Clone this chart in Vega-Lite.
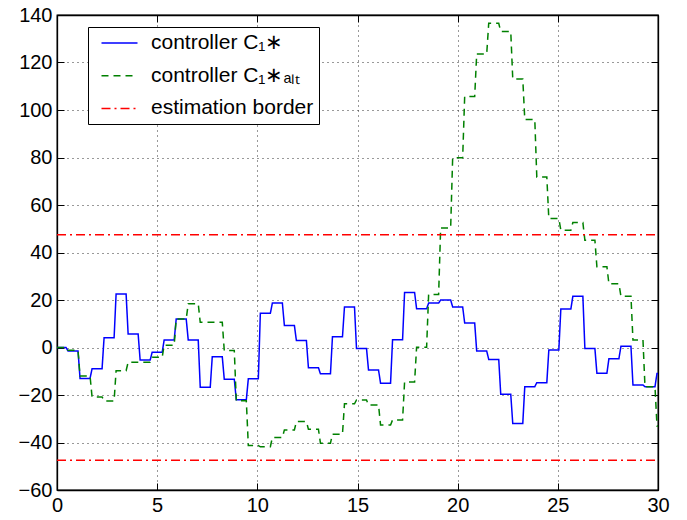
{
  "$schema": "https://vega.github.io/schema/vega-lite/v6.json",
  "width": 601,
  "height": 475,
  "autosize": {"type": "none"},
  "padding": {"left": 57, "top": 15, "right": 29, "bottom": 30},
  "background": "white",
  "datasets": {
    "blue": [
      {"t":0,"v":0},{"t":0.45,"v":0},
      {"t":0.55,"v":-1.5},{"t":1.05,"v":-1.5},
      {"t":1.15,"v":-13},{"t":1.65,"v":-13},
      {"t":1.75,"v":-8.9},{"t":2.25,"v":-8.9},
      {"t":2.35,"v":4.1},{"t":2.85,"v":4.1},
      {"t":2.95,"v":22.5},{"t":3.45,"v":22.5},
      {"t":3.55,"v":5.7},{"t":4.05,"v":5.7},
      {"t":4.15,"v":-5.3},{"t":4.65,"v":-5.3},
      {"t":4.75,"v":-2},{"t":5.25,"v":-2},
      {"t":5.35,"v":3.2},{"t":5.85,"v":3.2},
      {"t":5.95,"v":12},{"t":6.45,"v":12},
      {"t":6.55,"v":3.2},{"t":7.05,"v":3.2},
      {"t":7.15,"v":-16.7},{"t":7.65,"v":-16.7},
      {"t":7.75,"v":-3.9},{"t":8.25,"v":-3.9},
      {"t":8.35,"v":-13.4},{"t":8.85,"v":-13.4},
      {"t":8.95,"v":-22},{"t":9.45,"v":-22},
      {"t":9.55,"v":-13.2},{"t":10.05,"v":-13.2},
      {"t":10.15,"v":14.4},{"t":10.65,"v":14.4},
      {"t":10.75,"v":18.7},{"t":11.25,"v":18.7},
      {"t":11.35,"v":9.3},{"t":11.85,"v":9.3},
      {"t":11.95,"v":2.9},{"t":12.45,"v":2.9},
      {"t":12.55,"v":-8.5},{"t":13.05,"v":-8.5},
      {"t":13.15,"v":-11.1},{"t":13.65,"v":-11.1},
      {"t":13.75,"v":4.5},{"t":14.25,"v":4.5},
      {"t":14.35,"v":17.1},{"t":14.85,"v":17.1},
      {"t":14.95,"v":-0.4},{"t":15.45,"v":-0.4},
      {"t":15.55,"v":-9.5},{"t":16.05,"v":-9.5},
      {"t":16.15,"v":-15},{"t":16.65,"v":-15},
      {"t":16.75,"v":3.3},{"t":17.25,"v":3.3},
      {"t":17.35,"v":23.2},{"t":17.85,"v":23.2},
      {"t":17.95,"v":16.3},{"t":18.45,"v":16.3},
      {"t":18.55,"v":18.7},{"t":19.05,"v":18.7},
      {"t":19.15,"v":20},{"t":19.65,"v":20},
      {"t":19.75,"v":17.1},{"t":20.25,"v":17.1},
      {"t":20.35,"v":10.3},{"t":20.85,"v":10.3},
      {"t":20.95,"v":-1.5},{"t":21.45,"v":-1.5},
      {"t":21.55,"v":-5},{"t":22.05,"v":-5},
      {"t":22.15,"v":-19.7},{"t":22.65,"v":-19.7},
      {"t":22.75,"v":-32},{"t":23.25,"v":-32},
      {"t":23.35,"v":-16.5},{"t":23.85,"v":-16.5},
      {"t":23.95,"v":-14.8},{"t":24.45,"v":-14.8},
      {"t":24.55,"v":-1.1},{"t":25.05,"v":-1.1},
      {"t":25.15,"v":16.2},{"t":25.65,"v":16.2},
      {"t":25.75,"v":21.6},{"t":26.25,"v":21.6},
      {"t":26.35,"v":-0.4},{"t":26.85,"v":-0.4},
      {"t":26.95,"v":-10.8},{"t":27.45,"v":-10.8},
      {"t":27.55,"v":-4.7},{"t":28.05,"v":-4.7},
      {"t":28.15,"v":0.5},{"t":28.65,"v":0.5},
      {"t":28.75,"v":-15.8},{"t":29.25,"v":-15.8},
      {"t":29.35,"v":-16.5},{"t":29.85,"v":-16.5},
      {"t":29.95,"v":-10.9},{"t":30,"v":-10.9}
    ],
    "green": [
      {"t":0,"v":0},{"t":0.45,"v":0},
      {"t":0.55,"v":-1.2},{"t":1.05,"v":-1.2},
      {"t":1.15,"v":-12},{"t":1.65,"v":-12},
      {"t":1.75,"v":-20.8},{"t":2.25,"v":-20.8},
      {"t":2.35,"v":-22.5},{"t":2.85,"v":-22.5},
      {"t":2.95,"v":-9.8},{"t":3.45,"v":-9.8},
      {"t":3.55,"v":-6.2},{"t":4.05,"v":-6.2},
      {"t":4.15,"v":-6.2},{"t":4.65,"v":-6.2},
      {"t":4.75,"v":-4.1},{"t":5.25,"v":-4.1},
      {"t":5.35,"v":1},{"t":5.85,"v":1},
      {"t":5.95,"v":12},{"t":6.45,"v":12},
      {"t":6.55,"v":18.4},{"t":7.05,"v":18.4},
      {"t":7.15,"v":10.6},{"t":7.65,"v":10.6},
      {"t":7.75,"v":10.6},{"t":8.25,"v":10.6},
      {"t":8.35,"v":-1.3},{"t":8.85,"v":-1.3},
      {"t":8.95,"v":-22.4},{"t":9.45,"v":-22.4},
      {"t":9.55,"v":-41.3},{"t":10.05,"v":-41.3},
      {"t":10.15,"v":-41.8},{"t":10.65,"v":-41.8},
      {"t":10.75,"v":-37.9},{"t":11.25,"v":-37.9},
      {"t":11.35,"v":-34.7},{"t":11.85,"v":-34.7},
      {"t":11.95,"v":-31.2},{"t":12.45,"v":-31.2},
      {"t":12.55,"v":-34.4},{"t":13.05,"v":-34.4},
      {"t":13.15,"v":-40.3},{"t":13.65,"v":-40.3},
      {"t":13.75,"v":-36.5},{"t":14.25,"v":-36.5},
      {"t":14.35,"v":-23.7},{"t":14.85,"v":-23.7},
      {"t":14.95,"v":-22.1},{"t":15.45,"v":-22.1},
      {"t":15.55,"v":-24.2},{"t":16.05,"v":-24.2},
      {"t":16.15,"v":-32.6},{"t":16.65,"v":-32.6},
      {"t":16.75,"v":-30.5},{"t":17.25,"v":-30.5},
      {"t":17.35,"v":-14.5},{"t":17.85,"v":-14.5},
      {"t":17.95,"v":0.1},{"t":18.45,"v":0.1},
      {"t":18.55,"v":22.3},{"t":19.05,"v":22.3},
      {"t":19.15,"v":50.3},{"t":19.65,"v":50.3},
      {"t":19.75,"v":79.9},{"t":20.25,"v":79.9},
      {"t":20.35,"v":105.7},{"t":20.85,"v":105.7},
      {"t":20.95,"v":123.6},{"t":21.45,"v":123.6},
      {"t":21.55,"v":136.5},{"t":22.05,"v":136.5},
      {"t":22.15,"v":133.1},{"t":22.65,"v":133.1},
      {"t":22.75,"v":113.1},{"t":23.25,"v":113.1},
      {"t":23.35,"v":96},{"t":23.85,"v":96},
      {"t":23.95,"v":71.8},{"t":24.45,"v":71.8},
      {"t":24.55,"v":54.3},{"t":25.05,"v":54.3},
      {"t":25.15,"v":49.4},{"t":25.65,"v":49.4},
      {"t":25.75,"v":52.6},{"t":26.25,"v":52.6},
      {"t":26.35,"v":45.2},{"t":26.85,"v":45.2},
      {"t":26.95,"v":34},{"t":27.45,"v":34},
      {"t":27.55,"v":26.8},{"t":28.05,"v":26.8},
      {"t":28.15,"v":21.6},{"t":28.65,"v":21.6},
      {"t":28.75,"v":3.2},{"t":29.25,"v":3.2},
      {"t":29.35,"v":-16.5},{"t":29.85,"v":-16.5},
      {"t":29.95,"v":-33},{"t":30,"v":-33}
    ],
    "border": [
      {"t":0,"v":47.5,"p":"upper"},{"t":30,"v":47.5,"p":"upper"},
      {"t":0,"v":-47.5,"p":"lower"},{"t":30,"v":-47.5,"p":"lower"}
    ]
  },
  "config": {
    "font": "Liberation Sans",
    "view": {"stroke": "black", "strokeWidth": 1.3},
    "axis": {
      "labelFont": "Liberation Sans",
      "labelFontSize": 20,
      "labelColor": "black",
      "domainColor": "black",
      "domainWidth": 1.3,
      "tickColor": "black",
      "tickSize": -7,
      "tickWidth": 1,
      "labelPadding": 12,
      "gridColor": "#333",
      "gridDash": [1, 4],
      "gridWidth": 1,
      "labelFlush": false,
      "labelOverlap": false,
      "title": null
    },
    "legend": {
      "orient": "none",
      "legendX": 31,
      "legendY": 12,
      "padding": 5.5,
      "strokeColor": "black",
      "fillColor": "white",
      "cornerRadius": 0,
      "labelFont": "Liberation Sans",
      "labelFontSize": 21,
      "labelColor": "black",
      "labelLimit": 400,
      "labelOffset": 21,
      "symbolType": "M-2,0H2",
      "symbolSize": 324,
      "symbolStrokeWidth": 1.5,
      "symbolOffset": 15.5,
      "rowPadding": 10.7,
      "title": null
    }
  },
  "resolve": {"axis": {"x": "independent", "y": "independent"}},
  "layer": [
    {
      "data": {"name": "blue"},
      "mark": {"type": "line", "strokeWidth": 1.5},
      "encoding": {
        "x": {"field": "t", "type": "quantitative", "scale": {"domain": [0, 30], "nice": false, "zero": false},
              "axis": {"orient": "bottom", "values": [0, 5, 10, 15, 20, 25, 30], "grid": true}},
        "y": {"field": "v", "type": "quantitative", "scale": {"domain": [-60, 140], "nice": false, "zero": false},
              "axis": {"orient": "left", "values": [-60, -40, -20, 0, 20, 40, 60, 80, 100, 120, 140], "grid": true}},
        "color": {"datum": "controller C₁∗", "type": "nominal",
                  "scale": {"domain": ["controller C₁∗", "controller C₁∗ₐₗₜ", "estimation border"], "range": ["#0000ff", "#008000", "#ff0000"]},
                  "legend": {"title": null, "symbolType": "M-2,0H2", "symbolSize": 324}},
        "strokeDash": {"datum": "controller C₁∗", "type": "nominal",
                  "scale": {"domain": ["controller C₁∗", "controller C₁∗ₐₗₜ", "estimation border"], "range": [[1, 0], [7, 5], [9, 4, 2, 4]]},
                  "legend": {"title": null, "symbolType": "M-2,0H2", "symbolSize": 324}}
      }
    },
    {
      "data": {"name": "green"},
      "mark": {"type": "line", "strokeWidth": 1.5},
      "encoding": {
        "x": {"field": "t", "type": "quantitative", "axis": null},
        "y": {"field": "v", "type": "quantitative", "axis": null},
        "color": {"datum": "controller C₁∗ₐₗₜ", "type": "nominal"},
        "strokeDash": {"datum": "controller C₁∗ₐₗₜ", "type": "nominal"}
      }
    },
    {
      "data": {"name": "border"},
      "mark": {"type": "line", "strokeWidth": 1.5},
      "encoding": {
        "x": {"field": "t", "type": "quantitative",
              "axis": {"orient": "top", "values": [0, 5, 10, 15, 20, 25, 30], "labels": false, "grid": false}},
        "y": {"field": "v", "type": "quantitative",
              "axis": {"orient": "right", "values": [-60, -40, -20, 0, 20, 40, 60, 80, 100, 120, 140], "labels": false, "grid": false}},
        "detail": {"field": "p", "type": "nominal"},
        "color": {"datum": "estimation border", "type": "nominal"},
        "strokeDash": {"datum": "estimation border", "type": "nominal"}
      }
    }
  ]
}
